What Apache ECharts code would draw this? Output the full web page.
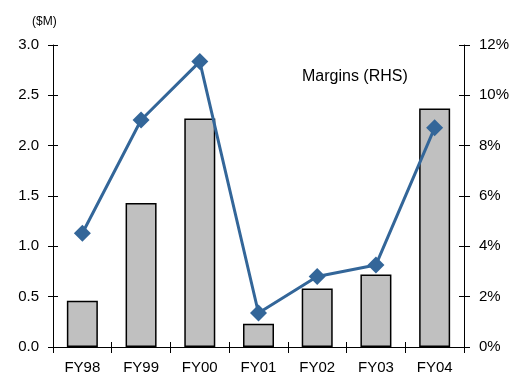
<!DOCTYPE html>
<html>
<head>
<meta charset="utf-8">
<script src="https://cdn.jsdelivr.net/npm/echarts@6/dist/echarts.min.js"></script>
<style>
  html, body { margin: 0; padding: 0; background: #ffffff; }
  #chart { width: 520px; height: 381px; }
</style>
</head>
<body>
<div id="chart"></div>
<script>
// Fiscal years shown on the category axis
const years = ['FY98', 'FY99', 'FY00', 'FY01', 'FY02', 'FY03', 'FY04'];
// Earnings in $M (left axis, bars)
const earnings = [0.46, 1.43, 2.27, 0.23, 0.58, 0.72, 2.37];
// Margins in % (right axis, line)
const margins = [4.52, 9.02, 11.34, 1.35, 2.8, 3.26, 8.71];

const font = 'Liberation Sans, Arial, sans-serif';
const axisLine = { show: true, lineStyle: { color: '#000', width: 1 } };
const labelStyle = { color: '#000', fontSize: 15, fontFamily: font };

const chart = echarts.init(document.getElementById('chart'), null, { renderer: 'canvas' });

chart.setOption({
  animation: false,
  backgroundColor: '#ffffff',
  grid: { left: 53, right: 56, top: 45, bottom: 34 },
  title: [
    { text: '($M)', left: 27, top: 11, textStyle: { fontSize: 12, fontWeight: 'normal', color: '#000', fontFamily: font } },
    { text: 'Margins (RHS)', left: 297, top: 64, textStyle: { fontSize: 16, fontWeight: 'normal', color: '#000', fontFamily: font } }
  ],
  xAxis: [
    {
      type: 'category', data: years,
      axisLine: axisLine,
      axisTick: { show: true, length: 6, lineStyle: { color: '#000' } },
      axisLabel: Object.assign({ margin: 13 }, labelStyle)
    },
    {
      type: 'category', data: years, position: 'bottom',
      axisLine: { show: false },
      axisTick: { show: true, inside: true, length: 5, lineStyle: { color: '#000' } },
      axisLabel: { show: false }
    }
  ],
  yAxis: [
    {
      type: 'value', min: 0, max: 3, interval: 0.5,
      axisLine: axisLine,
      axisTick: { show: true, length: 5, lineStyle: { color: '#000' } },
      splitLine: { show: false },
      axisLabel: Object.assign({ margin: 14, formatter: v => v.toFixed(1) }, labelStyle)
    },
    {
      type: 'value', min: 0, max: 12, interval: 2, position: 'right',
      axisLine: axisLine,
      axisTick: { show: true, length: 6, lineStyle: { color: '#000' } },
      splitLine: { show: false },
      axisLabel: Object.assign({ margin: 15, formatter: v => v + '%' }, labelStyle)
    },
    {
      type: 'value', min: 0, max: 3, interval: 0.5, position: 'left',
      axisLine: { show: false },
      axisTick: { show: true, inside: true, length: 5, lineStyle: { color: '#000' } },
      axisLabel: { show: false }, splitLine: { show: false }
    },
    {
      type: 'value', min: 0, max: 12, interval: 2, position: 'right',
      axisLine: { show: false },
      axisTick: { show: true, inside: true, length: 5, lineStyle: { color: '#000' } },
      axisLabel: { show: false }, splitLine: { show: false }
    }
  ],
  series: [
    {
      type: 'bar', data: earnings, xAxisIndex: 0, yAxisIndex: 0,
      barWidth: 31,
      itemStyle: { color: '#c0c0c0', borderColor: '#000', borderWidth: 1.5 },
      z: 2
    },
    {
      type: 'line', data: margins, xAxisIndex: 0, yAxisIndex: 1,
      symbol: 'diamond', symbolSize: 17,
      lineStyle: { color: '#336699', width: 3 },
      itemStyle: { color: '#336699' },
      z: 3
    }
  ]
});
</script>
</body>
</html>
